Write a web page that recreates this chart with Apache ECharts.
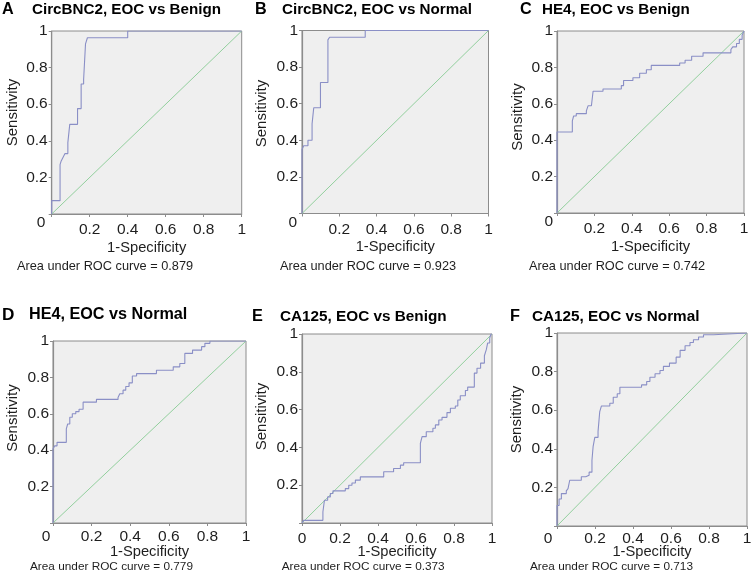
<!DOCTYPE html>
<html>
<head>
<meta charset="utf-8">
<script src="https://cdn.jsdelivr.net/npm/echarts@6/dist/echarts.min.js"></script>
<style>
html,body{margin:0;padding:0;background:#fff;}
#chart{width:754px;height:581px;}
</style>
</head>
<body>
<div id="chart"></div>
<script>
// ---------- data ----------
const panelLetters = ['A', 'B', 'C', 'D', 'E', 'F'];
const panelTitles = [
  'CircBNC2, EOC vs Benign',
  'CircBNC2, EOC vs Normal',
  'HE4, EOC vs Benign',
  'HE4, EOC vs Normal',
  'CA125, EOC vs Benign',
  'CA125, EOC vs Normal'
];
const aucValues = ['0.879', '0.923', '0.742', '0.779', '0.373', '0.713'];
const tickLabels = ['0', '0.2', '0.4', '0.6', '0.8', '1'];
const xAxisName = '1-Specificity';
const yAxisName = 'Sensitivity';
const aucPrefix = 'Area under ROC curve = ';
const diagonal = [0, 1];

const fprA = [0, 0, 0.044, 0.044, 0.05, 0.05, 0.06, 0.06, 0.07, 0.07, 0.085, 0.085, 0.095, 0.095, 0.136, 0.136, 0.155, 0.155, 0.168, 0.168, 0.178, 0.178, 0.188, 0.188, 0.4, 0.4, 1];
const tprA = [0, 0.073, 0.073, 0.27, 0.27, 0.29, 0.29, 0.31, 0.31, 0.33, 0.33, 0.39, 0.39, 0.49, 0.49, 0.576, 0.576, 0.71, 0.71, 0.735, 0.735, 0.93, 0.93, 0.963, 0.963, 1, 1];

const fprB = [0, 0, 0.009, 0.009, 0.032, 0.032, 0.054, 0.054, 0.063, 0.063, 0.099, 0.099, 0.139, 0.139, 0.148, 0.148, 0.339, 0.339, 1];
const tprB = [0, 0.35, 0.35, 0.37, 0.37, 0.40, 0.40, 0.49, 0.49, 0.578, 0.578, 0.716, 0.716, 0.949, 0.949, 0.963, 0.963, 1, 1];

const fprC = [0, 0, 0.082, 0.082, 0.089, 0.089, 0.103, 0.103, 0.157, 0.157, 0.166, 0.166, 0.184, 0.184, 0.193, 0.193, 0.246, 0.246, 0.344, 0.344, 0.356, 0.356, 0.406, 0.406, 0.442, 0.442, 0.478, 0.478, 0.504, 0.504, 0.656, 0.656, 0.685, 0.685, 0.72, 0.72, 0.781, 0.781, 0.93, 0.93, 0.94, 0.94, 0.96, 0.96, 0.975, 0.975, 0.99, 0.99, 1, 1];
const tprC = [0, 0.445, 0.445, 0.506, 0.506, 0.533, 0.533, 0.546, 0.546, 0.561, 0.561, 0.589, 0.589, 0.598, 0.598, 0.669, 0.669, 0.681, 0.681, 0.70, 0.70, 0.728, 0.728, 0.743, 0.743, 0.768, 0.768, 0.787, 0.787, 0.811, 0.811, 0.824, 0.824, 0.839, 0.839, 0.861, 0.861, 0.88, 0.88, 0.898, 0.898, 0.913, 0.913, 0.931, 0.931, 0.954, 0.954, 0.978, 0.978, 1];

const fprD = [0, 0, 0.009, 0.009, 0.021, 0.021, 0.069, 0.069, 0.076, 0.076, 0.087, 0.087, 0.1, 0.1, 0.118, 0.118, 0.135, 0.135, 0.156, 0.156, 0.225, 0.225, 0.337, 0.337, 0.346, 0.346, 0.363, 0.363, 0.377, 0.377, 0.394, 0.394, 0.411, 0.411, 0.433, 0.433, 0.536, 0.536, 0.623, 0.623, 0.657, 0.657, 0.683, 0.683, 0.723, 0.723, 0.77, 0.77, 0.787, 0.787, 0.813, 0.813, 0.874, 0.874, 1];
const tprD = [0, 0.406, 0.406, 0.424, 0.424, 0.443, 0.443, 0.517, 0.517, 0.544, 0.544, 0.581, 0.581, 0.60, 0.60, 0.612, 0.612, 0.625, 0.625, 0.664, 0.664, 0.679, 0.679, 0.69, 0.69, 0.71, 0.71, 0.73, 0.73, 0.75, 0.75, 0.77, 0.77, 0.808, 0.808, 0.821, 0.821, 0.839, 0.839, 0.858, 0.858, 0.876, 0.876, 0.932, 0.932, 0.95, 0.95, 0.969, 0.969, 0.987, 0.987, 1, 1, 1, 1];

const fprE = [0, 0.009, 0.11, 0.11, 0.118, 0.118, 0.135, 0.135, 0.149, 0.149, 0.163, 0.163, 0.228, 0.228, 0.246, 0.246, 0.263, 0.263, 0.281, 0.281, 0.307, 0.307, 0.43, 0.43, 0.482, 0.482, 0.518, 0.518, 0.535, 0.535, 0.623, 0.623, 0.632, 0.632, 0.654, 0.654, 0.689, 0.689, 0.702, 0.702, 0.72, 0.72, 0.737, 0.737, 0.763, 0.763, 0.781, 0.781, 0.807, 0.807, 0.82, 0.82, 0.833, 0.833, 0.86, 0.86, 0.872, 0.872, 0.907, 0.907, 0.921, 0.921, 0.94, 0.94, 0.96, 0.96, 0.97, 0.97, 0.977, 0.977, 0.988, 0.988, 0.995, 0.995, 1];
const tprE = [0, 0.014, 0.014, 0.058, 0.058, 0.12, 0.12, 0.138, 0.138, 0.156, 0.156, 0.17, 0.17, 0.182, 0.182, 0.20, 0.20, 0.212, 0.212, 0.227, 0.227, 0.244, 0.244, 0.271, 0.271, 0.288, 0.288, 0.306, 0.306, 0.319, 0.319, 0.421, 0.421, 0.457, 0.457, 0.483, 0.483, 0.501, 0.501, 0.519, 0.519, 0.545, 0.545, 0.559, 0.559, 0.584, 0.584, 0.607, 0.607, 0.619, 0.619, 0.651, 0.651, 0.673, 0.673, 0.701, 0.701, 0.719, 0.719, 0.793, 0.793, 0.819, 0.819, 0.846, 0.846, 0.885, 0.885, 0.917, 0.917, 0.952, 0.952, 0.979, 0.979, 1, 1];

const fprF = [0, 0, 0.011, 0.011, 0.023, 0.023, 0.049, 0.049, 0.058, 0.058, 0.067, 0.067, 0.128, 0.128, 0.151, 0.151, 0.169, 0.169, 0.184, 0.184, 0.19, 0.19, 0.199, 0.199, 0.216, 0.216, 0.225, 0.225, 0.234, 0.234, 0.278, 0.278, 0.296, 0.296, 0.317, 0.317, 0.331, 0.331, 0.445, 0.445, 0.472, 0.472, 0.489, 0.489, 0.516, 0.516, 0.542, 0.542, 0.56, 0.56, 0.592, 0.592, 0.627, 0.627, 0.648, 0.648, 0.674, 0.674, 0.7, 0.7, 0.718, 0.718, 0.745, 0.745, 0.771, 0.771, 0.824, 0.824, 1];
const tprF = [0, 0.106, 0.106, 0.14, 0.14, 0.168, 0.168, 0.182, 0.182, 0.194, 0.194, 0.237, 0.237, 0.255, 0.255, 0.263, 0.263, 0.279, 0.279, 0.341, 0.341, 0.411, 0.411, 0.459, 0.459, 0.489, 0.489, 0.593, 0.593, 0.622, 0.622, 0.636, 0.636, 0.667, 0.667, 0.685, 0.685, 0.719, 0.719, 0.731, 0.731, 0.749, 0.749, 0.771, 0.771, 0.789, 0.789, 0.806, 0.806, 0.827, 0.827, 0.844, 0.844, 0.875, 0.875, 0.91, 0.91, 0.934, 0.934, 0.951, 0.951, 0.965, 0.965, 0.979, 0.979, 0.991, 0.991, 1, 1];

const fprs = [fprA, fprB, fprC, fprD, fprE, fprF];
const tprs = [tprA, tprB, tprC, tprD, tprE, tprF];

// ---------- layout (pixels) ----------
const layout = [
  {grid: [51.7, 31, 190, 183],   letterX: 2,   titleX: 32,  titleY: 10,  titleSize: 15.2, yGap: 31.2, yShift: 10,  xGap: 26.3, xMargin: 8, zeroMode: 'y', zeroPad: [18, 2.4, 0, 0],  aucX: 17,  aucY: 266, aucSize: 12.75},
  {grid: [302, 30.5, 186.5, 183], letterX: 255, titleX: 282, titleY: 10,  titleSize: 15.2, yGap: 32.8, yShift: 8.5, xGap: 26.3, xMargin: 8, zeroMode: 'y', zeroPad: [18, 1, 0, 0],    aucX: 280, aucY: 266, aucSize: 12.75},
  {grid: [557, 31, 187, 182],    letterX: 520, titleX: 542, titleY: 10,  titleSize: 15.2, yGap: 31.2, yShift: 5,   xGap: 26.3, xMargin: 8, zeroMode: 'y', zeroPad: [17.4, 0, 0, 0],  aucX: 529, aucY: 266, aucSize: 12.75},
  {grid: [53, 341, 193, 182],    letterX: 2,   titleX: 29,  titleY: 315, titleSize: 16.2, yGap: 32.2, yShift: 14,  xGap: 21.3, xMargin: 6, zeroMode: 'x', zeroPad: [0, 14, 0, 0],    aucX: 30,  aucY: 567, aucSize: 11.8},
  {grid: [302, 334, 190, 189],   letterX: 252, titleX: 280, titleY: 317, titleSize: 15.3, yGap: 32.8, yShift: 12,  xGap: 21.6, xMargin: 8, zeroMode: 'x', zeroPad: [0, 0, 0, 0],     aucX: 281.7, aucY: 567, aucSize: 11.8},
  {grid: [557, 333, 190, 193],   letterX: 510, titleX: 532, titleY: 317, titleSize: 15.3, yGap: 32.2, yShift: 10,  xGap: 18.6, xMargin: 5, zeroMode: 'x', zeroPad: [0, 18, 0, 0],    aucX: 530, aucY: 567, aucSize: 11.8}
];

const FONT = '"Liberation Sans", Arial, Helvetica, sans-serif';
const TXT = '#1e1e1e';
const AXIS = '#8c8c8c';
const ROC = '#8a8fc6';
const DIAG = '#92cf9d';
const tickText = v => tickLabels[Math.round(v * 5)];

const grids = [], xAxes = [], yAxes = [], series = [], graphics = [];

layout.forEach((L, i) => {
  grids.push({
    left: L.grid[0], top: L.grid[1], width: L.grid[2], height: L.grid[3],
    show: true, backgroundColor: '#efefef', borderColor: AXIS, borderWidth: 1,
    containLabel: false, outerBoundsMode: 'none'
  });
  const zeroOnY = L.zeroMode === 'y';
  const zeroRich = {z: {fontFamily: FONT, fontSize: 15.5, color: TXT, padding: L.zeroPad}};
  xAxes.push({
    type: 'value', gridIndex: i, min: 0, max: 1, interval: 0.2,
    name: xAxisName, nameLocation: 'middle', nameGap: L.xGap, nameMoveOverlap: false,
    nameTextStyle: {fontFamily: FONT, fontSize: 14.7, color: TXT},
    axisLine: {show: true, onZero: false, lineStyle: {color: AXIS, width: 1.2}},
    axisTick: {show: true, length: 3, lineStyle: {color: AXIS}},
    splitLine: {show: false},
    axisLabel: {
      margin: L.xMargin, fontFamily: FONT, fontSize: 15.5, color: TXT,
      showMinLabel: true, showMaxLabel: true, hideOverlap: false,
      formatter: v => (v === 0 ? (zeroOnY ? '' : '{z|' + tickLabels[0] + '}') : tickText(v)),
      rich: zeroRich
    }
  });
  yAxes.push({
    type: 'value', gridIndex: i, min: 0, max: 1, interval: 0.2,
    name: yAxisName, nameLocation: 'middle', nameRotate: 90, nameGap: L.yGap, nameMoveOverlap: false,
    nameTextStyle: {fontFamily: FONT, fontSize: 15, color: TXT, padding: [0, 0, 0, 2 * L.yShift]},
    axisLine: {show: true, onZero: false, lineStyle: {color: AXIS, width: 1.2}},
    axisTick: {show: true, length: 3, lineStyle: {color: AXIS}},
    splitLine: {show: false},
    axisLabel: {
      margin: 4, fontFamily: FONT, fontSize: 15.5, color: TXT,
      showMinLabel: true, showMaxLabel: true, hideOverlap: false,
      formatter: v => (v === 0 ? (zeroOnY ? '{z|' + tickLabels[0] + '}' : '') : tickText(v)),
      rich: zeroRich
    }
  });
  series.push({
    type: 'line', xAxisIndex: i, yAxisIndex: i, silent: true,
    showSymbol: false, symbol: 'none',
    lineStyle: {color: DIAG, width: 1},
    data: diagonal.map((v, k) => [diagonal[k], diagonal[k]]),
    z: 2
  });
  series.push({
    type: 'line', xAxisIndex: i, yAxisIndex: i, silent: true,
    showSymbol: false, symbol: 'none',
    lineStyle: {color: ROC, width: 1.1},
    data: fprs[i].map((x, k) => [x, tprs[i][k]]),
    z: 3
  });
  graphics.push({
    type: 'text', x: L.letterX, y: L.titleY,
    style: {text: panelLetters[i], font: 'bold ' + (L.titleSize + 1) + 'px ' + FONT, fill: '#000',
            textVerticalAlign: 'middle', verticalAlign: 'middle'}
  });
  graphics.push({
    type: 'text', x: L.titleX, y: L.titleY,
    style: {text: panelTitles[i], font: 'bold ' + L.titleSize + 'px ' + FONT, fill: '#000',
            textVerticalAlign: 'middle', verticalAlign: 'middle'}
  });
  graphics.push({
    type: 'text', x: L.aucX, y: L.aucY,
    style: {text: aucPrefix + aucValues[i], font: L.aucSize + 'px ' + FONT, fill: TXT,
            textVerticalAlign: 'middle', verticalAlign: 'middle'}
  });
});

const chart = echarts.init(document.getElementById('chart'), null, {renderer: 'canvas'});
chart.setOption({
  animation: false,
  backgroundColor: '#ffffff',
  grid: grids,
  xAxis: xAxes,
  yAxis: yAxes,
  series: series,
  graphic: graphics
});
</script>
</body>
</html>
